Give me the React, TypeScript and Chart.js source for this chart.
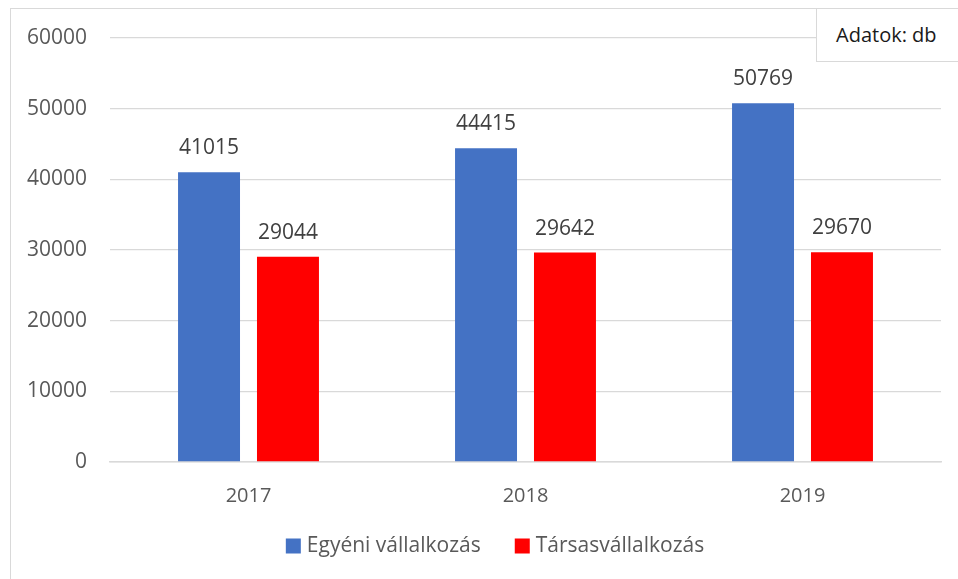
import React, { useEffect, useRef } from "react";
import { Chart, registerables } from "chart.js";

Chart.register(...registerables);

const categories = ["2017", "2018", "2019"];
const seriesNames = ["Egyéni vállalkozás", "Társasvállalkozás"];
const egyeni = [41015, 44415, 50769];
const tarsas = [29044, 29642, 29670];
const seriesColors = ["#4472C4", "#FF0000"];
const yTicks = [0, 10000, 20000, 30000, 40000, 50000, 60000];
const unitLabel = "Adatok: db";

const FONT = "'Open Sans', 'Noto Sans', sans-serif";

const dataLabelPlugin = {
  id: "dataLabels",
  afterDatasetsDraw(chart: any) {
    const ctx = chart.ctx;
    ctx.save();
    ctx.font = `21px ${FONT}`;
    ctx.fillStyle = "#404040";
    ctx.textAlign = "center";
    ctx.textBaseline = "alphabetic";
    chart.data.datasets.forEach((ds: any, i: number) => {
      const meta = chart.getDatasetMeta(i);
      meta.data.forEach((bar: any, j: number) => {
        ctx.fillText(String(ds.data[j]), bar.x, bar.y - 18);
      });
    });
    ctx.restore();
  },
};

const legendPlugin = {
  id: "customLegend",
  afterDraw(chart: any) {
    const ctx = chart.ctx;
    ctx.save();
    ctx.font = `21px ${FONT}`;
    ctx.textBaseline = "middle";
    ctx.textAlign = "left";
    const box = 15;
    const gapBoxText = 6;
    const gapItems = 34;
    const widths = seriesNames.map((n) => box + gapBoxText + ctx.measureText(n).width);
    const total = widths.reduce((a, b) => a + b, 0) + gapItems * (seriesNames.length - 1);
    const cx = chart.width / 2 + 16;
    let x = cx - total / 2;
    const y = 546;
    seriesNames.forEach((n, i) => {
      ctx.fillStyle = seriesColors[i];
      ctx.fillRect(x, y - box / 2, box, box);
      ctx.fillStyle = "#595959";
      ctx.fillText(n, x + box + gapBoxText, y);
      x += widths[i] + gapItems;
    });
    ctx.restore();
  },
};

export default function App() {
  const ref = useRef<HTMLCanvasElement>(null);
  useEffect(() => {
    if (!ref.current) return;
    const chart = new Chart(ref.current, {
      type: "bar",
      data: {
        labels: categories,
        datasets: [
          {
            label: seriesNames[0],
            data: egyeni,
            backgroundColor: seriesColors[0],
            categoryPercentage: 0.57,
            barPercentage: 0.785,
          },
          {
            label: seriesNames[1],
            data: tarsas,
            backgroundColor: seriesColors[1],
            categoryPercentage: 0.57,
            barPercentage: 0.785,
          },
        ],
      },
      options: {
        animation: false,
        responsive: false,
        maintainAspectRatio: false,
        layout: { padding: { left: 10, top: 38, right: 17, bottom: 0 } },
        plugins: { legend: { display: false }, tooltip: { enabled: false } },
        scales: {
          x: {
            grid: { display: false },
            border: { display: true, color: "#D9D9D9", width: 1.5 },
            ticks: {
              color: "#595959",
              font: { family: FONT, size: 20 },
              padding: 14,
            },
            afterFit: (s: any) => {
              s.height = 117;
            },
          },
          y: {
            min: 0,
            max: 60000,
            afterBuildTicks: (s: any) => {
              s.ticks = yTicks.map((v) => ({ value: v }));
            },
            grid: { color: "#D9D9D9", lineWidth: 1.3, drawTicks: false },
            border: { display: false },
            ticks: {
              color: "#595959",
              font: { family: FONT, size: 21 },
              padding: 23,
              callback: (v: any) => String(v),
            },
            afterFit: (s: any) => {
              s.width = 100;
            },
          },
        },
      },
      plugins: [dataLabelPlugin, legendPlugin],
    });
    return () => chart.destroy();
  }, []);

  return (
    <div
      style={{
        position: "absolute",
        left: 0,
        top: 0,
        width: 958,
        height: 579,
        overflow: "hidden",
        background: "#fff",
      }}
    >
      <div
        style={{
          position: "absolute",
          left: 10,
          top: 8,
          width: 1100,
          height: 800,
          border: "1.5px solid #D9D9D9",
        }}
      />
      <canvas
        ref={ref}
        width={958}
        height={579}
        style={{ position: "absolute", left: 0, top: 0, width: 958, height: 579 }}
      />
      <div
        style={{
          position: "absolute",
          left: 816,
          top: 8,
          width: 200,
          height: 54,
          border: "1.5px solid #D9D9D9",
          background: "#fff",
          boxSizing: "border-box",
          fontFamily: FONT,
          fontSize: 20,
          color: "#1a1a1a",
          lineHeight: "52px",
          paddingLeft: 19,
        }}
      >
        {unitLabel}
      </div>
    </div>
  );
}
